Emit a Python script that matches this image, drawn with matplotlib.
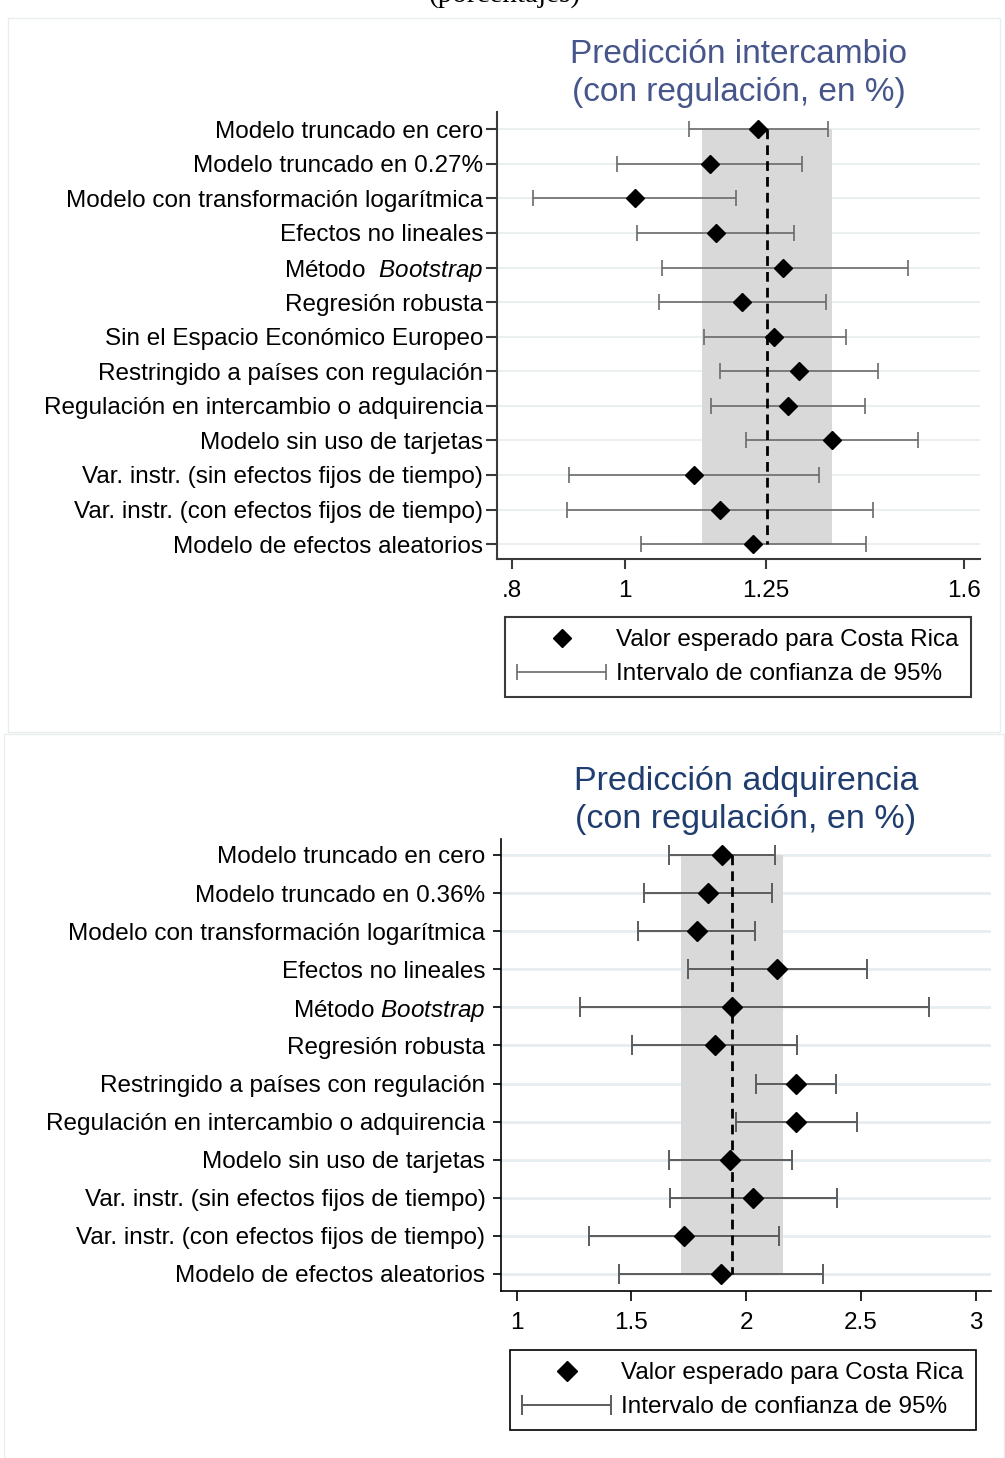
import numpy as np
import matplotlib.pyplot as plt
from matplotlib.patches import Rectangle
from matplotlib.legend_handler import HandlerErrorbar
from matplotlib.container import ErrorbarContainer

plt.rcParams['font.family'] = ['Liberation Sans', 'DejaVu Sans']
plt.rcParams['mathtext.fontset'] = 'custom'
plt.rcParams['mathtext.rm'] = 'Liberation Sans'
plt.rcParams['mathtext.it'] = 'Liberation Sans:italic'

# --- panel 1: intercambio ---
lab_int = ["Modelo truncado en cero", "Modelo truncado en 0.27%",
           "Modelo con transformación logarítmica", "Efectos no lineales",
           r"Método  $\it{Bootstrap}$", "Regresión robusta",
           "Sin el Espacio Económico Europeo", "Restringido a países con regulación",
           "Regulación en intercambio o adquirencia", "Modelo sin uso de tarjetas",
           "Var. instr. (sin efectos fijos de tiempo)",
           "Var. instr. (con efectos fijos de tiempo)", "Modelo de efectos aleatorios"]
est_int = [1.236, 1.150, 1.018, 1.161, 1.280, 1.208, 1.264, 1.308, 1.289, 1.367, 1.123, 1.169, 1.227]
lo_int = [1.114, 0.987, 0.838, 1.022, 1.066, 1.061, 1.140, 1.168, 1.153, 1.214, 0.901, 0.898, 1.028]
hi_int = [1.360, 1.314, 1.196, 1.299, 1.501, 1.356, 1.391, 1.448, 1.424, 1.519, 1.344, 1.439, 1.427]
base_int = 1.252
band_int = (1.137, 1.367)
ticks_int = [0.8, 1, 1.25, 1.6]
ticklab_int = [".8", "1", "1.25", "1.6"]

# --- panel 2: adquirencia ---
lab_adq = ["Modelo truncado en cero", "Modelo truncado en 0.36%",
           "Modelo con transformación logarítmica", "Efectos no lineales",
           r"Método $\it{Bootstrap}$", "Regresión robusta",
           "Restringido a países con regulación",
           "Regulación en intercambio o adquirencia", "Modelo sin uso de tarjetas",
           "Var. instr. (sin efectos fijos de tiempo)",
           "Var. instr. (con efectos fijos de tiempo)", "Modelo de efectos aleatorios"]
est_adq = [1.894, 1.832, 1.784, 2.136, 1.937, 1.863, 2.216, 2.218, 1.931, 2.031, 1.728, 1.889]
lo_adq = [1.662, 1.556, 1.529, 1.746, 1.276, 1.502, 2.043, 1.954, 1.662, 1.667, 1.315, 1.444]
hi_adq = [2.127, 2.113, 2.037, 2.525, 2.795, 2.220, 2.391, 2.483, 2.200, 2.394, 2.143, 2.336]
base_adq = 1.938
band_adq = (1.717, 2.159)
ticks_adq = [1, 1.5, 2, 2.5, 3]
ticklab_adq = ["1", "1.5", "2", "2.5", "3"]

W, H = 1005, 1458
fig = plt.figure(figsize=(W / 100, H / 100), dpi=100)

# faint panel frames
fig.add_artist(Rectangle((8 / W, 1 - 732 / H), 992 / W, 714 / H, transform=fig.transFigure,
                         fill=False, edgecolor='#e8eeee', lw=1))
fig.add_artist(Rectangle((4 / W, 0), 1000 / W, 1 - 734 / H, transform=fig.transFigure,
                         fill=False, edgecolor='#e8eeee', lw=1))

fig.text(505 / W, 1 - 2 / H, "(porcentajes)", family='Liberation Serif', fontsize=21,
         ha='center', va='baseline')


def panel(rect, labels, est, lo, hi, base, band, xlim, ticks, ticklab, title, tcolor,
          legpos, style):
    ax = fig.add_axes(rect)
    n = len(labels)
    y = np.arange(n)
    est = np.array(est)
    xerr = [est - np.array(lo), np.array(hi) - est]
    ax.fill_betweenx([0, n - 1], band[0], band[1], color='#d9d9d9', lw=0, zorder=1)
    eb = ax.errorbar(est, y, xerr=xerr, fmt='none', ecolor=style['ecol'], elinewidth=style['elw'],
                     capsize=style['cap'], capthick=style['elw'], zorder=2,
                     label="Intervalo de confianza de 95%")
    ax.vlines(base, 0, n - 1, colors='black', linestyles=(0, (3.5, 2.2)), lw=2.0, zorder=2.5)
    pts, = ax.plot(est, y, 'D', color='black', markersize=style['ms'], ls='none', zorder=3,
                   label="Valor esperado para Costa Rica")
    ax.set_yticks(y)
    ax.set_yticklabels(labels, fontsize=17.5)
    ax.set_ylim(n - 1 + style['ybot'], style['ytop'])
    ax.set_xlim(*xlim)
    ax.set_xticks(ticks)
    ax.set_xticklabels(ticklab, fontsize=17.5)
    ax.grid(axis='y', color=style['gcol'], lw=style['glw'], zorder=0)
    ax.set_axisbelow(True)
    for s in ['top', 'right']:
        ax.spines[s].set_visible(False)
    for s in ['left', 'bottom']:
        ax.spines[s].set_color(style['spcol'])
        ax.spines[s].set_linewidth(style['splw'])
    ax.tick_params(axis='y', length=style['ytl'], width=style['splw'], pad=style['ypad'],
                   color=style['spcol'])
    ax.tick_params(axis='x', length=7, width=style['splw'], pad=8, color=style['spcol'])
    ax.set_title(title, fontsize=style['tfs'], color=tcolor, linespacing=1.28, pad=style['tpad'])
    ax.legend(handles=[pts, eb], loc='upper left', bbox_to_anchor=legpos,
              bbox_transform=fig.transFigure, borderaxespad=0, fontsize=17.5,
              handlelength=3.65, handletextpad=0.42, labelspacing=0.5, borderpad=0.5,
              fancybox=False, framealpha=1, edgecolor=style['spcol'],
              handler_map={ErrorbarContainer: HandlerErrorbar(xerr_size=1.82)})
    ax.get_legend().get_frame().set_linewidth(style['splw'])
    return ax


style_int = dict(ecol='#6a6a6a', elw=1.2, cap=6, ms=9.3, gcol='#e6ecee', glw=1.2,
                 spcol='#3a3a3a', splw=1.5, ytl=8, ypad=2, ytop=-0.5, ybot=0.43,
                 tfs=24, tpad=8)
style_adq = dict(ecol='#5c5c5c', elw=1.4, cap=7, ms=10, gcol='#e6edf0', glw=2,
                 spcol='black', splw=1.2, ytl=6, ypad=5, ytop=-0.42, ybot=0.44,
                 tfs=24.5, tpad=8)

panel([497 / W, 1 - 559 / H, 483 / W, 447 / H], lab_int, est_int, lo_int, hi_int, base_int,
      band_int, (0.774, 1.628), ticks_int, ticklab_int,
      "Predicción intercambio\n(con regulación, en %)", '#46558a',
      (505 / W, 1 - 617 / H), style_int)

panel([500.7 / W, 1 - 1290.7 / H, 490.3 / W, 451.7 / H], lab_adq, est_adq, lo_adq, hi_adq,
      base_adq, band_adq, (0.930, 3.067), ticks_adq, ticklab_adq,
      "Predicción adquirencia\n(con regulación, en %)", '#1f3d6e',
      (510 / W, 1 - 1350 / H), style_adq)

fig.savefig("out.png", dpi=100)
